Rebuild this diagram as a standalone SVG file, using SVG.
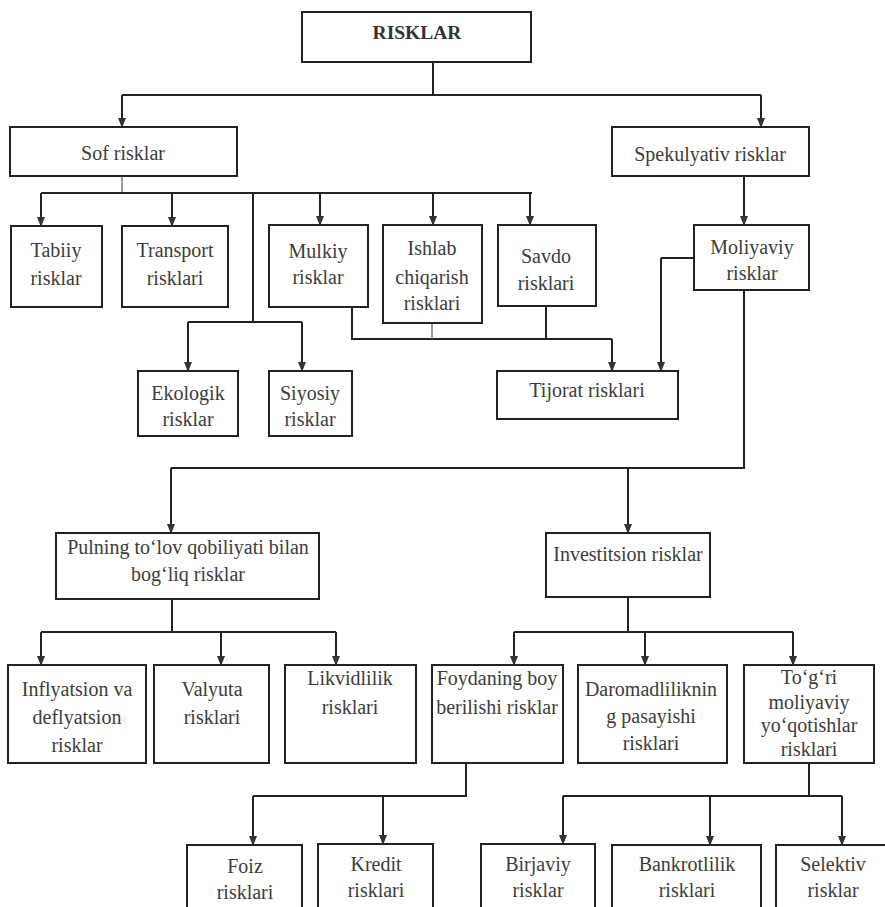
<svg xmlns="http://www.w3.org/2000/svg" width="885" height="907" viewBox="0 0 885 907">
<defs>
<marker id="arr" markerUnits="userSpaceOnUse" markerWidth="10" markerHeight="9" refX="9" refY="4" orient="auto" viewBox="0 0 10 8">
<path d="M0,0 L10,4 L0,8 Z" fill="#333"/>
</marker>
<style>
.box{fill:#fff;stroke:#222;stroke-width:2}
.t{font-family:"Liberation Serif","Times New Roman",serif;font-size:20px;fill:#3c3c3c;text-anchor:middle}
.b{font-weight:bold;font-size:19.5px;fill:#333}
.c{fill:none;stroke:#222;stroke-width:2}
.a{fill:none;stroke:#222;stroke-width:2;marker-end:url(#arr)}
.f{fill:none;stroke:#777;stroke-width:1.5}
</style>
</defs>
<rect width="885" height="907" fill="#fff"/>
<g id="connectors">
<path class="c" d="M433,62 V95 M122,95 H761"/>
<path class="a" d="M122,95 V127"/>
<path class="a" d="M761,95 V127"/>
<path class="f" d="M122,176 V193"/>
<path class="c" d="M41,193 H532 M253,193 V322 M188,322 H302"/>
<path class="a" d="M41,193 V226"/>
<path class="a" d="M172,193 V226"/>
<path class="a" d="M320,193 V225"/>
<path class="a" d="M433,193 V225"/>
<path class="a" d="M530,193 V225"/>
<path class="a" d="M188,322 V371"/>
<path class="a" d="M302,322 V371"/>
<path class="c" d="M352,307 V339 H612 M546,306 V339"/>
<path class="f" d="M432,310 V339"/>
<path class="a" d="M612,339 V371"/>
<path class="a" d="M744,176 V225"/>
<path class="c" d="M694,258 H661"/>
<path class="a" d="M661,258 V371"/>
<path class="c" d="M744,290 V468 H171"/>
<path class="a" d="M171,468 V533"/>
<path class="a" d="M628,468 V533"/>
<path class="c" d="M172,599 V632 M41,632 H336"/>
<path class="a" d="M41,632 V665"/>
<path class="a" d="M221,632 V665"/>
<path class="a" d="M336,632 V665"/>
<path class="c" d="M628,597 V632 M514,632 H793"/>
<path class="a" d="M514,632 V665"/>
<path class="a" d="M645,632 V665"/>
<path class="a" d="M793,632 V665"/>
<path class="c" d="M466,763 V796 H253"/>
<path class="a" d="M253,796 V845"/>
<path class="a" d="M383,796 V844"/>
<path class="c" d="M809,763 V796 M563,796 H842"/>
<path class="a" d="M563,796 V844"/>
<path class="a" d="M710,796 V845"/>
<path class="a" d="M842,796 V845"/>
</g>
<g id="risklar"><rect class="box" x="302" y="12" width="229" height="50"/><text class="t b" x="417" y="39">RISKLAR</text></g>
<g id="sof"><rect class="box" x="10" y="127" width="227" height="49"/><text class="t" x="123" y="160">Sof risklar</text></g>
<g id="spekulyativ"><rect class="box" x="612" y="127" width="197" height="49"/><text class="t" x="710" y="161">Spekulyativ risklar</text></g>
<g id="tabiiy"><rect class="box" x="11" y="226" width="91" height="81"/><text class="t" x="56" y="257">Tabiiy</text><text class="t" x="56" y="285">risklar</text></g>
<g id="transport"><rect class="box" x="122" y="226" width="106" height="81"/><text class="t" x="175" y="257">Transport</text><text class="t" x="175" y="285">risklari</text></g>
<g id="mulkiy"><rect class="box" x="269" y="225" width="99" height="82"/><text class="t" x="318" y="258">Mulkiy</text><text class="t" x="318" y="284">risklar</text></g>
<g id="ishlab"><rect class="box" x="383" y="225" width="99" height="98"/><text class="t" x="432" y="255">Ishlab</text><text class="t" x="432" y="284">chiqarish</text><text class="t" x="432" y="310">risklari</text></g>
<g id="savdo"><rect class="box" x="498" y="225" width="98" height="81"/><text class="t" x="546" y="263">Savdo</text><text class="t" x="546" y="290">risklari</text></g>
<g id="moliyaviy"><rect class="box" x="694" y="225" width="115" height="65"/><text class="t" x="752" y="254">Moliyaviy</text><text class="t" x="752" y="280">risklar</text></g>
<g id="ekologik"><rect class="box" x="138" y="371" width="100" height="65"/><text class="t" x="188" y="400">Ekologik</text><text class="t" x="188" y="426">risklar</text></g>
<g id="siyosiy"><rect class="box" x="269" y="371" width="83" height="65"/><text class="t" x="310" y="400">Siyosiy</text><text class="t" x="310" y="426">risklar</text></g>
<g id="tijorat"><rect class="box" x="497" y="371" width="181" height="48"/><text class="t" x="587" y="397">Tijorat risklari</text></g>
<g id="pulning"><rect class="box" x="56" y="533" width="263" height="66"/><text class="t" x="188" y="554">Pulning to‘lov qobiliyati bilan</text><text class="t" x="188" y="581">bog‘liq risklar</text></g>
<g id="investitsion"><rect class="box" x="546" y="533" width="164" height="64"/><text class="t" x="628" y="561">Investitsion risklar</text></g>
<g id="inflyatsion"><rect class="box" x="8" y="665" width="138" height="98"/><text class="t" x="77" y="696">Inflyatsion va</text><text class="t" x="77" y="724">deflyatsion</text><text class="t" x="77" y="752">risklar</text></g>
<g id="valyuta"><rect class="box" x="154" y="665" width="115" height="98"/><text class="t" x="212" y="696">Valyuta</text><text class="t" x="212" y="724">risklari</text></g>
<g id="likvidlilik"><rect class="box" x="285" y="665" width="131" height="98"/><text class="t" x="350" y="685">Likvidlilik</text><text class="t" x="350" y="714">risklari</text></g>
<g id="foydaning"><rect class="box" x="432" y="665" width="131" height="98"/><text class="t" x="497" y="685">Foydaning boy</text><text class="t" x="497" y="714">berilishi risklar</text></g>
<g id="daromadlilik"><rect class="box" x="578" y="665" width="149" height="98"/><text class="t" x="651" y="696">Daromadliliknin</text><text class="t" x="651" y="723">g pasayishi</text><text class="t" x="651" y="750">risklari</text></g>
<g id="togri"><rect class="box" x="744" y="665" width="130" height="98"/><text class="t" x="809" y="684">To‘g‘ri</text><text class="t" x="809" y="709">moliyaviy</text><text class="t" x="809" y="732">yo‘qotishlar</text><text class="t" x="809" y="756">risklari</text></g>
<g id="foiz"><rect class="box" x="187" y="845" width="115" height="70"/><text class="t" x="245" y="873">Foiz</text><text class="t" x="245" y="899">risklari</text></g>
<g id="kredit"><rect class="box" x="318" y="844" width="115" height="70"/><text class="t" x="376" y="871">Kredit</text><text class="t" x="376" y="897">risklari</text></g>
<g id="birjaviy"><rect class="box" x="481" y="844" width="114" height="70"/><text class="t" x="538" y="871">Birjaviy</text><text class="t" x="538" y="897">risklar</text></g>
<g id="bankrotlilik"><rect class="box" x="612" y="845" width="149" height="70"/><text class="t" x="687" y="871">Bankrotlilik</text><text class="t" x="687" y="897">risklari</text></g>
<g id="selektiv"><rect class="box" x="776" y="845" width="114" height="70"/><text class="t" x="833" y="871">Selektiv</text><text class="t" x="833" y="897">risklar</text></g>
</svg>
